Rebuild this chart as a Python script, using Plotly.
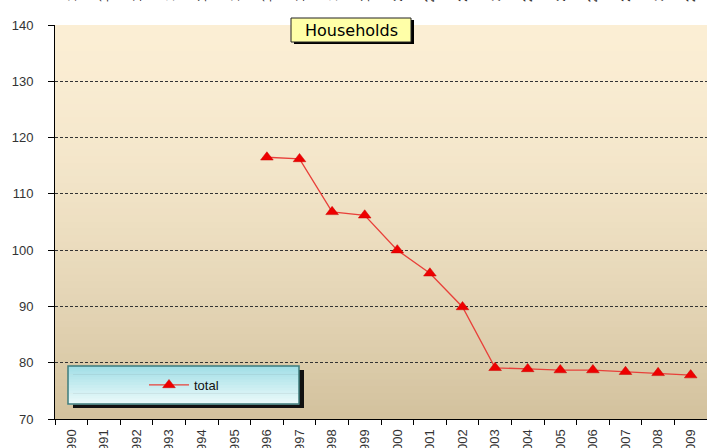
import plotly.graph_objects as go

years = [str(y) for y in range(1990, 2010)]
total = [None, None, None, None, None, None,
         116.5, 116.2, 106.8, 106.2, 100.0, 95.9, 89.9,
         79.1, 78.9, 78.7, 78.7, 78.4, 78.2, 77.8]
y_ticks = [70, 80, 90, 100, 110, 120, 130, 140]
title_text = "Households"
series_name = "total"

W, H = 707, 448
ML, MR, MT, MB = 55, 0, 25, 29
PW = W - ML - MR
PH = H - MT - MB

fig = go.Figure()
fig.add_trace(go.Scatter(
    x=years, y=total, mode="lines+markers", name=series_name,
    line=dict(color="#E8403A", width=1.3),
    marker=dict(symbol="triangle-up", size=11, color="#EE0000",
                line=dict(color="#CC0000", width=0.5)),
    connectgaps=False, showlegend=True,
))

shapes = []
top = (251, 238, 212)
bot = (210, 193, 157)
N = 60
for i in range(N):
    t0 = i / N
    t = ((i + 0.5) / N) ** 1.6
    c = tuple(int(round(top[k] + (bot[k] - top[k]) * t)) for k in range(3))
    shapes.append(dict(type="rect", xref="paper", yref="paper",
                       x0=0, x1=1, y0=1 - t0 - 1 / N - 0.002, y1=1 - t0,
                       fillcolor="rgb(%d,%d,%d)" % c, line=dict(width=0),
                       layer="below"))

def px_to_paper_x(px):
    return (px - ML) / PW

def px_to_paper_y(py):
    return (H - MB - py) / PH

lx0, lx1, ly0, ly1 = 68, 299, 366, 404
shapes.append(dict(type="rect", xref="paper", yref="paper",
                   x0=px_to_paper_x(lx0 + 5), x1=px_to_paper_x(lx1 + 5),
                   y0=px_to_paper_y(ly1 + 4), y1=px_to_paper_y(ly0 + 4),
                   fillcolor="#111111", line=dict(width=0)))
LN = 14
ctop = (160, 222, 230)
cbot = (236, 250, 250)
for i in range(LN):
    t = (i + 0.5) / LN
    c = tuple(int(round(ctop[k] + (cbot[k] - ctop[k]) * t)) for k in range(3))
    ya = ly0 + (ly1 - ly0) * i / LN
    yb = ly0 + (ly1 - ly0) * (i + 1) / LN + 0.6
    shapes.append(dict(type="rect", xref="paper", yref="paper",
                       x0=px_to_paper_x(lx0), x1=px_to_paper_x(lx1),
                       y0=px_to_paper_y(yb), y1=px_to_paper_y(ya),
                       fillcolor="rgb(%d,%d,%d)" % c, line=dict(width=0)))
shapes.append(dict(type="rect", xref="paper", yref="paper",
                   x0=px_to_paper_x(lx0), x1=px_to_paper_x(lx1),
                   y0=px_to_paper_y(ly1), y1=px_to_paper_y(ly0),
                   line=dict(color="#3E7C7C", width=1.5)))

tx0, tx1, ty0, ty1 = 291, 411, 18, 42
shapes.append(dict(type="rect", xref="paper", yref="paper",
                   x0=px_to_paper_x(tx0 + 3), x1=px_to_paper_x(tx1 + 3),
                   y0=px_to_paper_y(ty1 + 2), y1=px_to_paper_y(ty0 + 2),
                   fillcolor="#000000", line=dict(width=0)))
shapes.append(dict(type="rect", xref="paper", yref="paper",
                   x0=px_to_paper_x(tx0), x1=px_to_paper_x(tx1),
                   y0=px_to_paper_y(ty1), y1=px_to_paper_y(ty0),
                   fillcolor="#FFFFA8", line=dict(color="#222222", width=1)))

annotations = [dict(text=title_text, xref="paper", yref="paper",
                    x=px_to_paper_x((tx0 + tx1) / 2), y=px_to_paper_y((ty0 + ty1) / 2 + 0.5),
                    xanchor="center", yanchor="middle", showarrow=False,
                    font=dict(family="DejaVu Sans", size=16, color="#000000"))]

# wrapped-around fragments of the rotated labels at the very top
for i, yr in enumerate(years):
    annotations.append(dict(text=yr, x=(i + 0.5) / len(years), xref="paper", yref="paper",
                            y=px_to_paper_y(4), yanchor="bottom", xanchor="center",
                            textangle=-90, showarrow=False,
                            font=dict(family="Liberation Sans, Arial", size=13, color="#333333")))

fig.update_layout(
    width=W, height=H,
    margin=dict(l=ML, r=MR, t=MT, b=MB, pad=0, autoexpand=False),
    paper_bgcolor="white", plot_bgcolor="rgba(0,0,0,0)",
    shapes=shapes, annotations=annotations,
    showlegend=True,
    legend=dict(x=px_to_paper_x(144), y=px_to_paper_y(385), xanchor="left", yanchor="middle",
                bgcolor="rgba(0,0,0,0)", borderwidth=0,
                font=dict(family="Liberation Sans, Arial", size=13, color="#111111"),
                itemwidth=40),
    xaxis=dict(type="category", categoryorder="array", categoryarray=years,
               range=[-0.5, 19.5], showgrid=False, zeroline=False, automargin=False,
               showline=True, linecolor="#000000", linewidth=1,
               ticks="outside", ticklen=5, tickcolor="#000000",
               tickson="boundaries", tickangle=-90, ticklabelstandoff=4,
               tickfont=dict(family="Liberation Sans, Arial", size=13, color="#333333")),
    yaxis=dict(range=[70, 140], tickvals=y_ticks, showgrid=True, automargin=False,
               gridcolor="#333333", griddash="3px,2px", gridwidth=1,
               zeroline=False, showline=True, linecolor="#000000", linewidth=1,
               ticks="outside", ticklen=6, tickcolor="#000000", ticklabelstandoff=12,
               tickfont=dict(family="Liberation Sans, Arial", size=13, color="#333333")),
)

fig.write_html("out.html", config={"displayModeBar": False},
               post_script="document.body.style.margin='0';document.body.style.overflow='hidden';")
